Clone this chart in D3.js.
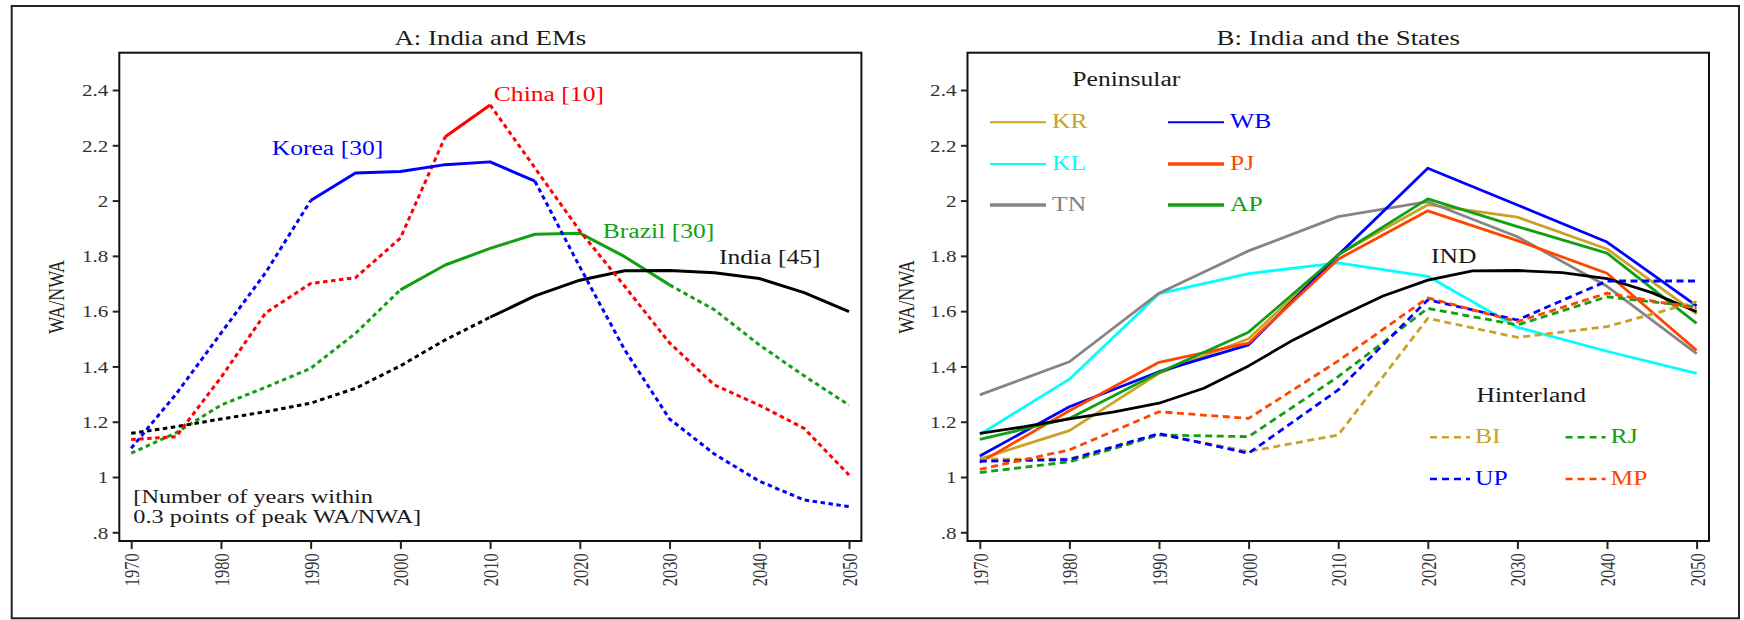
<!DOCTYPE html>
<html><head><meta charset="utf-8">
<script src="https://cdn.jsdelivr.net/npm/d3@7"></script>
<style>
body{margin:0;background:#fff}
svg{display:block}
svg text{font-family:'Liberation Serif','Times New Roman',Times,serif}
</style>
</head><body>
<svg id="c" width="1744" height="620" font-family="Liberation Serif, Times New Roman, serif"></svg>
<script>
// ---------- data ----------
const years5  = [1970,1975,1980,1985,1990,1995,2000,2005,2010,2015,2020,2025,2030,2035,2040,2045,2050];
const years10 = [1970,1980,1990,2000,2010,2020,2030,2040,2050];

// Panel A: India and EMs (WA/NWA)
const korea  = [1.104,1.30,1.52,1.74,2.00,2.10,2.105,2.13,2.14,2.07,1.76,1.46,1.21,1.083,0.985,0.917,0.893];
const china  = [1.136,1.146,1.36,1.594,1.70,1.721,1.864,2.231,2.346,2.118,1.89,1.69,1.485,1.333,1.26,1.176,1.007];
const brazil = [1.086,1.16,1.26,1.325,1.393,1.52,1.677,1.767,1.827,1.878,1.882,1.797,1.695,1.605,1.478,1.366,1.26];
const india  = [1.158,1.182,1.21,1.236,1.267,1.321,1.402,1.496,1.578,1.655,1.712,1.746,1.747,1.739,1.718,1.667,1.598];
// years inside which each series is drawn solid (within 0.3 of peak)
const koreaSolid  = [1990,2015];
const chinaSolid  = [2005,2010];
const brazilSolid = [2000,2030];
const indiaSolid  = [2010,2050];
const seriesLabelsA = ["Korea [30]","China [10]","Brazil [30]","India [45]"];

// Panel B: India and the States
const KR = [1.065,1.168,1.375,1.50,1.805,1.985,1.94,1.825,1.59];
const KL = [1.154,1.354,1.663,1.736,1.775,1.726,1.542,1.455,1.375];
const TN = [1.297,1.417,1.665,1.818,1.942,1.996,1.869,1.69,1.446];
const WB = [1.076,1.254,1.381,1.478,1.803,2.117,1.984,1.85,1.619];
const PJ = [1.052,1.24,1.415,1.484,1.788,1.963,1.855,1.737,1.458];
const AP = [1.136,1.212,1.378,1.524,1.803,2.006,1.906,1.81,1.556];
const BI = [1.065,1.065,1.155,1.092,1.152,1.574,1.505,1.544,1.634];
const RJ = [1.016,1.055,1.152,1.146,1.363,1.61,1.55,1.652,1.616];
const UP = [1.057,1.063,1.157,1.086,1.315,1.641,1.568,1.709,1.709];
const MP = [1.028,1.098,1.236,1.212,1.42,1.648,1.562,1.665,1.61];
const peninsularNames = ["KR","WB","KL","PJ","TN","AP"];
const hinterlandNames = ["BI","RJ","UP","MP"];

const yTicks = [0.8,1,1.2,1.4,1.6,1.8,2,2.2,2.4];
const yTickLabels = [".8","1","1.2","1.4","1.6","1.8","2","2.2","2.4"];
const titles = ["A: India and EMs","B: India and the States"];

// ---------- layout ----------
const FONT = "Liberation Serif, Times New Roman, serif";
const SX = 1.28;               // horizontal stretch of the original picture's text
const frameTop = 52.7, frameBottom = 541;
const svg = d3.select("#c");

svg.append("rect").attr("x",11.7).attr("y",6).attr("width",1739-11.7).attr("height",618.3-6)
  .attr("fill","none").attr("stroke","#222").attr("stroke-width",2);

function hText(g, x, y, str, size, color, anchor){
  return g.append("text")
    .attr("transform",`translate(${x},${y}) scale(${SX},1)`)
    .attr("text-anchor",anchor||"start")
    .attr("font-family",FONT)
    .attr("font-size",size)
    .attr("fill",color||"#1a1a1a")
    .text(str);
}

const y = d3.scaleLinear().domain([0.8,2.4]).range([532.3,90]);

const panels = [
  {fx0:119.3, fx1:861.4, r0:131.2, r1:849,   yTitleX:56},
  {fx0:967.5, fx1:1709,  r0:979.8, r1:1696.6, yTitleX:906}
];

const xs = panels.map(p => d3.scaleLinear().domain([1970,2050]).range([p.r0,p.r1]));

panels.forEach((p,i)=>{
  const g = svg.append("g");
  const x = xs[i];
  hText(g,(p.fx0+p.fx1)/2,45,titles[i],21,"#1a1a1a","middle");
  g.append("rect").attr("x",p.fx0).attr("y",frameTop).attr("width",p.fx1-p.fx0).attr("height",frameBottom-frameTop)
    .attr("fill","none").attr("stroke","#111").attr("stroke-width",2);
  // y axis
  const ya = g.append("g").attr("transform",`translate(${p.fx0},0)`)
    .call(d3.axisLeft(y).tickValues(yTicks).tickFormat((d,k)=>yTickLabels[k]).tickSize(6.6));
  ya.attr("font-family",FONT);
  ya.select(".domain").remove();
  ya.selectAll(".tick line").attr("stroke","#222").attr("stroke-width",2);
  ya.selectAll(".tick text").attr("x",null).attr("dy","0.35em")
    .attr("transform",`translate(-11,0) scale(${SX},1)`)
    .attr("font-family",FONT).attr("font-size",16.5).attr("fill","#333");
  // x axis
  const xa = g.append("g").attr("transform",`translate(0,${frameBottom})`)
    .call(d3.axisBottom(x).tickValues(years10).tickFormat(d=>String(d)).tickSize(8));
  xa.attr("font-family",FONT);
  xa.select(".domain").remove();
  xa.selectAll(".tick line").attr("stroke","#222").attr("stroke-width",2);
  xa.selectAll(".tick text").attr("y",0).attr("x",0).attr("dy","0.35em")
    .attr("text-anchor","end")
    .attr("transform",`translate(0,12.3) scale(${SX},1) rotate(-90)`)
    .attr("font-family",FONT).attr("font-size",16.5).attr("fill","#333");
  // y title
  g.append("text").attr("transform",`translate(${p.yTitleX},${(frameTop+frameBottom)/2}) scale(${SX},1) rotate(-90)`)
    .attr("text-anchor","middle").attr("dy","0.35em").attr("font-family",FONT)
    .attr("font-size",18).attr("fill","#222").text("WA/NWA");
});

// ---------- panel A ----------
const xA = xs[0];
const lineA = d3.line().x(d=>xA(d[0])).y(d=>y(d[1]));
const gA = svg.append("g");
function drawSeriesA(vals, solid, color){
  const pts = years5.map((yr,k)=>[yr,vals[k]]);
  const pre  = pts.filter(d=>d[0]<=solid[0]);
  const mid  = pts.filter(d=>d[0]>=solid[0] && d[0]<=solid[1]);
  const post = pts.filter(d=>d[0]>=solid[1]);
  [[pre,true],[mid,false],[post,true]].forEach(([seg,dot])=>{
    if(seg.length<2) return;
    gA.append("path").attr("d",lineA(seg)).attr("fill","none").attr("stroke",color)
      .attr("stroke-width",3).attr("stroke-linejoin","round")
      .attr("stroke-dasharray",dot?"4.5,3.5":null);
  });
}
drawSeriesA(brazil,brazilSolid,"#12a012");
drawSeriesA(india,indiaSolid,"#000");
drawSeriesA(china,chinaSolid,"#ff0000");
drawSeriesA(korea,koreaSolid,"#0000ff");

hText(gA,271.7,155,seriesLabelsA[0],20,"#0000ff");
hText(gA,493.8,100.5,seriesLabelsA[1],20,"#ff0000");
hText(gA,602.7,238.3,seriesLabelsA[2],20,"#12a012");
hText(gA,719,264.3,seriesLabelsA[3],20,"#1a1a1a");
hText(gA,133.3,502.7,"[Number of years within",19,"#1a1a1a");
hText(gA,133.3,523.3,"0.3 points of peak WA/NWA]",19,"#1a1a1a");

// ---------- panel B ----------
const xB = xs[1];
const lineB = d3.line().x(d=>xB(d[0])).y(d=>y(d[1]));
const gB = svg.append("g");
const colors = {KR:"#c9a227",KL:"#00ffff",TN:"#858585",WB:"#0000ff",PJ:"#ff4500",AP:"#12a012",
                BI:"#c9a227",RJ:"#12a012",UP:"#0000ff",MP:"#ff4500"};
const dataB = {KR,KL,TN,WB,PJ,AP,BI,RJ,UP,MP};
["KR","KL","TN","WB","PJ","AP"].forEach(n=>{
  gB.append("path").attr("d",lineB(years10.map((yr,k)=>[yr,dataB[n][k]])))
    .attr("fill","none").attr("stroke",colors[n]).attr("stroke-width",2.8).attr("stroke-linejoin","round");
});
gB.append("path").attr("d",lineB(years5.map((yr,k)=>[yr,india[k]])))
  .attr("fill","none").attr("stroke","#000").attr("stroke-width",2.8).attr("stroke-linejoin","round");
["BI","RJ","UP","MP"].forEach(n=>{
  gB.append("path").attr("d",lineB(years10.map((yr,k)=>[yr,dataB[n][k]])))
    .attr("fill","none").attr("stroke",colors[n]).attr("stroke-width",2.8).attr("stroke-linejoin","round")
    .attr("stroke-dasharray","7,4.5");
});
hText(gB,1431,263.3,"IND",20,"#1a1a1a");

// Peninsular legend
hText(gB,1072.3,86,"Peninsular",20,"#1a1a1a");
const penCols = [990,1168], penRows = [122.3,164,205];
const penWidths = {KR:2,WB:2,KL:2,PJ:3.3,TN:3.3,AP:3.3};
peninsularNames.forEach((n,k)=>{
  const cx = penCols[k%2], cy = penRows[Math.floor(k/2)];
  gB.append("line").attr("x1",cx).attr("x2",cx+56).attr("y1",cy).attr("y2",cy)
    .attr("stroke",colors[n]).attr("stroke-width",penWidths[n]);
  hText(gB,cx+62,cy+5.6,n,20,colors[n]);
});
// Hinterland legend
hText(gB,1476.5,401.7,"Hinterland",20,"#1a1a1a");
const hinCols = [1430,1565.6], hinRows = [437.3,479];
hinterlandNames.forEach((n,k)=>{
  const cx = hinCols[k%2], cy = hinRows[Math.floor(k/2)];
  gB.append("line").attr("x1",cx).attr("x2",cx+40).attr("y1",cy).attr("y2",cy)
    .attr("stroke",colors[n]).attr("stroke-width",2.5).attr("stroke-dasharray","7,5");
  hText(gB,cx+45,cy+6,n,20,colors[n]);
});
</script>
</body></html>
